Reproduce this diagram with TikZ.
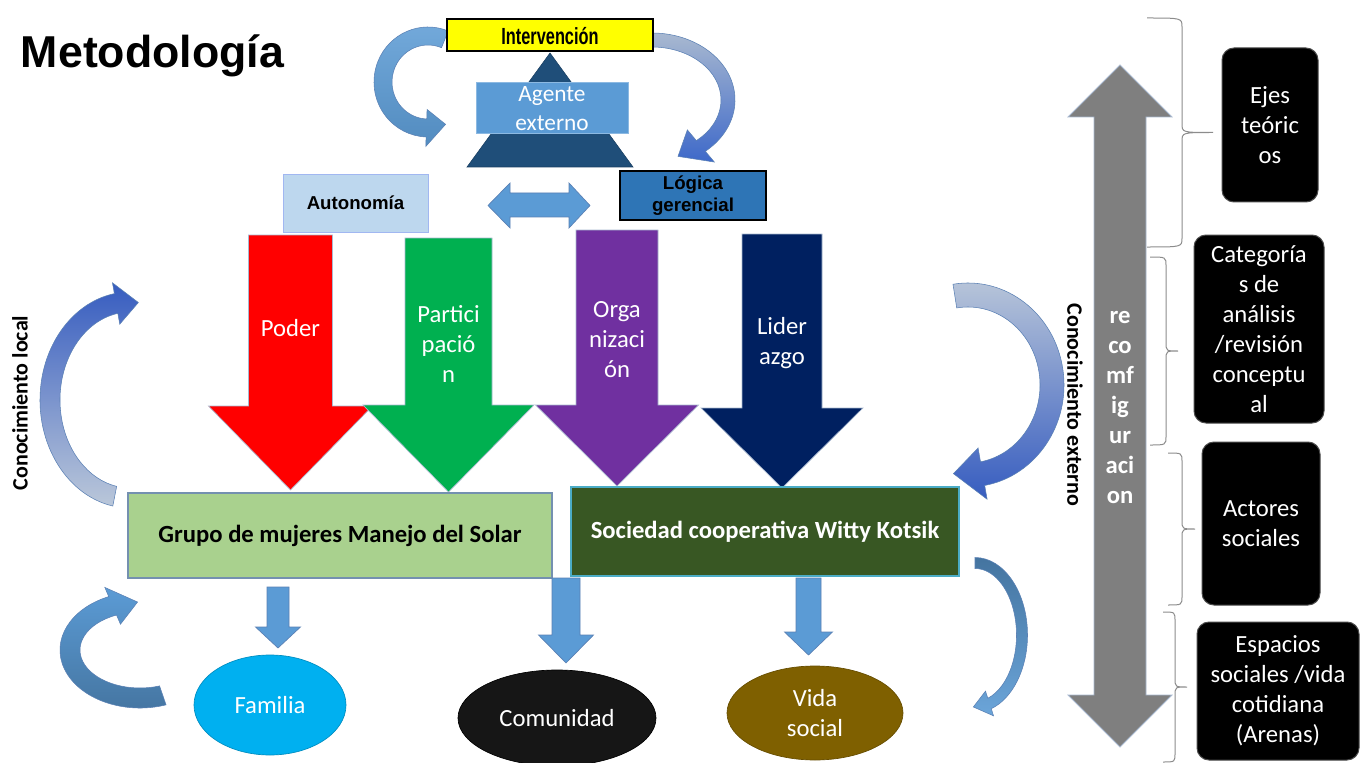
\documentclass[tikz,border=0pt]{standalone}
\usepackage{fontspec}
\usepackage{graphicx}
\setmainfont{Carlito}
\newfontfamily\arialf{Liberation Sans}
\usetikzlibrary{calc,fit,shapes.geometric}
\definecolor{ylw}{HTML}{FFFF00}
\definecolor{tri}{HTML}{1F4E79}
\definecolor{agb}{HTML}{5B9BD5}
\definecolor{autb}{HTML}{BDD7EE}
\definecolor{logb}{HTML}{2E75B6}
\definecolor{cred}{HTML}{FF0000}
\definecolor{cgreen}{HTML}{00B050}
\definecolor{cpurp}{HTML}{7030A0}
\definecolor{cnavy}{HTML}{002060}
\definecolor{grupo}{HTML}{A9D18E}
\definecolor{grupob}{HTML}{7490B0}
\definecolor{socf}{HTML}{385723}
\definecolor{socb}{HTML}{4BACC6}
\definecolor{fam}{HTML}{00B0F0}
\definecolor{com}{HTML}{161616}
\definecolor{vida}{HTML}{7F6000}
\definecolor{gar}{HTML}{7F7F7F}
\definecolor{brc}{HTML}{8C8C8C}
\definecolor{aedge}{HTML}{5A80B4}
\definecolor{bedge}{HTML}{A9B9D0}

% curved block arrow: style, centre, rx, ry, width, start angle, head-base angle, tip angle, head half width
\newcommand\bentarrow[9]{%
\shade[#1,shift={#2}] (#6:{#3+#5/2} and {#4+#5/2})
 arc[start angle=#6,end angle=#7,x radius={#3+#5/2},y radius={#4+#5/2}]
 -- (#7:{#3+#9} and {#4+#9}) -- (#8:{#3} and {#4})
 -- (#7:{#3-#9} and {#4-#9}) -- (#7:{#3-#5/2} and {#4-#5/2})
 arc[start angle=#7,end angle=#6,x radius={#3-#5/2},y radius={#4-#5/2}] -- cycle;}

% straight down block arrow: style, cx, ytop, half shaft, yhead, half head, ytip
\newcommand\dnarrow[7]{%
\fill[#1] ({#2-#4},#3) -- ({#2+#4},#3) -- ({#2+#4},#5) -- ({#2+#6},#5) -- (#2,#7)
 -- ({#2-#6},#5) -- ({#2-#4},#5) -- cycle;}

% right brace: x0, y0, y1, xarm, xtip, ymid
\newcommand\rbrc[6]{%
\draw[brc,line width=0.75pt] (#1,#2) .. controls (#4,#2) .. (#4,{#2+9}) -- (#4,{#6-9})
 .. controls (#4,#6) .. (#5,#6) .. controls (#4,#6) .. (#4,{#6+9}) -- (#4,{#3-9})
 .. controls (#4,#3) .. (#1,#3);}

\begin{document}
\begin{tikzpicture}[x=0.75pt,y=-0.75pt,
  every node/.style={inner sep=0pt,outer sep=0pt},
  wt/.style={text=white,align=center,font=\fontsize{18.5}{22.5}\selectfont},
  wtb/.style={text=white,align=center,font=\bfseries\fontsize{18.5}{22.5}\selectfont},
  blk/.style={rectangle,rounded corners=9pt,fill=black,draw=black!70,line width=0.75pt},
  arl/.style={font=\arialf\bfseries,align=center},
  oval/.style={ellipse,text=white,align=center,font=\fontsize{18.5}{22.5}\selectfont},
  bigarr/.style={draw=bedge,line width=0.5pt},
  smallarr/.style={fill=agb,draw=aedge,line width=0.5pt},
  bent/.style={draw=aedge,line width=0.4pt}]
\useasboundingbox (0,0) rectangle (1360,763);
\fill[white] (0,0) rectangle (1360,763);

% title
\node[anchor=base west,font=\arialf\bfseries\fontsize{33.5}{36}\selectfont] (title) at (21,68) {Metodología};

% top curved arrows (drawn under the boxes)
\bentarrow{bent,top color=agb!85!white,bottom color=agb!90!black}{(428,82)}{45}{46}{18}{-68}{-268}{-293}{18.5}
\bentarrow{bent,top color=bedge,bottom color=agb!75!blue!90!black}{(652,100)}{76}{60}{14}{-92}{50}{70}{21}

% triangle and agent
\fill[tri,draw=tri!80!black] (550,53) -- (633,167) -- (467,167) -- cycle;
\node[fit={(476,83) (628,134)},fill=agb,draw=agb!70!white,line width=0.75pt] (agente) {};
\node[wt,font=\fontsize{17.5}{21.75}\selectfont] (agentet) at (agente.center) {Agente\\externo};
\node[fit={(447,19) (653,51)},fill=ylw,draw=black,line width=1pt] (interv) {};
\node (intervt) at ([yshift=-0.5pt]interv.center)
  {\arialf\bfseries\fontsize{17.5}{19}\selectfont\scalebox{0.70}[1]{Intervención}};

% autonomia / logica
\node[fit={(283,174) (428,232)},fill=autb,draw=autb!85!blue,line width=0.5pt] (auton) {};
\node[arl,font=\arialf\bfseries\fontsize{14}{16}\selectfont] (autont) at (auton.center) {Autonomía};
\node[fit={(620,171) (766,220)},fill=logb,draw=black,line width=1pt] (logica) {};
\node[arl,font=\arialf\bfseries\fontsize{14}{16.5}\selectfont] (logicat) at (logica.center) {Lógica\\gerencial};
\fill[agb,draw=aedge,line width=0.5pt] (488,205.5) -- (510,183) -- (510,193) -- (569,193)
  -- (569,183) -- (590,205.5) -- (569,228) -- (569,217) -- (510,217) -- (510,228) -- cycle;

% four big down arrows
\dnarrow{cred,bigarr}{290.5}{235}{42}{406}{82}{490}
\dnarrow{cgreen,bigarr}{448.5}{238}{43.5}{405}{85.5}{492}
\dnarrow{cpurp,bigarr}{617}{230}{41}{405}{81.5}{486}
\dnarrow{cnavy,bigarr}{782}{234}{40}{408}{81}{488}
\node[wt] (poder) at (290.5,328) {Poder};
\node[wt] (partic) at (448.5,344) {Partici\\pació\\n};
\node[wt] (organ) at (617,339.5) {Orga\\nizaci\\ón};
\node[wt] (lider) at (782,343) {Lider\\azgo};

% main boxes
\node[fit={(128,493) (552,578)},fill=grupo,draw=grupob,line width=1pt] (grupo) {};
\node[font=\bfseries\fontsize{18.5}{22.5}\selectfont] (grupot) at (grupo.center) {Grupo de mujeres Manejo del Solar};
\node[fit={(571,487) (959,576)},fill=socf,draw=socb,line width=1pt] (socied) {};
\node[text=white,font=\bfseries\fontsize{18.5}{22.5}\selectfont] (sociedt) at (socied.center) {Sociedad cooperativa Witty Kotsik};

% small down arrows
\dnarrow{smallarr}{278}{587}{11}{627}{22.5}{648}
\dnarrow{smallarr}{566}{578}{14}{635}{27.5}{663}
\dnarrow{smallarr}{808.5}{578}{12.5}{632}{24}{655}

% ovals
\node[oval,fill=fam,draw=fam!80!black,line width=0.5pt,minimum width={152*0.75pt},minimum height={100*0.75pt}] (familia) at (270,705) {Familia};
\node[oval,fill=com,draw=black,line width=0.5pt,minimum width={198*0.75pt},minimum height={96*0.75pt}] (comun) at (557,718) {Comunidad};
\node[oval,fill=vida,draw=vida!80!black,line width=0.5pt,minimum width={176*0.75pt},minimum height={94*0.75pt}] (vidas) at (815,713) {Vida\\social};

% side curved arrows
\bentarrow{bent,top color=agb!70!blue!85!black,bottom color=bedge!80!white}{(130,400)}{80}{98}{20}{101}{260}{276}{21}
\bentarrow{bent,top color=agb,bottom color=agb!75!black}{(140,650)}{70}{48}{20}{71}{247}{268}{20}
\bentarrow{bent,top color=bedge!80!white,bottom color=agb!70!blue!85!black}{(968,385)}{84}{90}{24}{-99}{80}{100}{26}
\bentarrow{bent,top color=agb!75!black,bottom color=agb!90!white}{(975,635)}{47}{72}{11}{-90}{72}{92}{13}

\node[rotate=90,font=\bfseries\fontsize{16.5}{18}\selectfont] (clocal) at (20,403) {Conocimiento local};
\node[rotate=-90,font=\bfseries\fontsize{16.5}{18}\selectfont] (cext) at (1075,405) {Conocimiento externo};

% big grey double arrow
\fill[gar,draw=bedge,line width=0.6pt] (1120,65) -- (1172,117) -- (1146,117) -- (1146,695)
  -- (1172,695) -- (1120,747) -- (1068,695) -- (1094,695) -- (1094,117) -- (1068,117) -- cycle;
\node[wtb] (recomf) at (1120,407.5) {re\\co\\mf\\ig\\ur\\aci\\on};

% braces
\rbrc{1147}{18}{247}{1182}{1213}{132.5}
\rbrc{1150}{257}{445}{1166}{1178}{351}
\rbrc{1168}{453}{605}{1182}{1195}{529}
\rbrc{1163}{612}{762}{1175}{1187}{687}

% black boxes
\node[blk,fit={(1222,48) (1318,202)}] (ejes) {};
\node[wt] (ejest) at (ejes.center) {Ejes\\teóric\\os};
\node[blk,fit={(1194,235) (1324,423)}] (categ) {};
\node[wt] (categt) at (categ.center) {Categoría\\s de\\análisis\\/revisión\\conceptu\\al};
\node[blk,fit={(1202,442) (1320,605)}] (actores) {};
\node[wt] (actorest) at (actores.center) {Actores\\sociales};
\node[blk,fit={(1197,622) (1359,760)}] (espacios) {};
\node[wt] (espaciost) at (espacios.center) {Espacios\\sociales /vida\\cotidiana\\(Arenas)};
\end{tikzpicture}
\end{document}
